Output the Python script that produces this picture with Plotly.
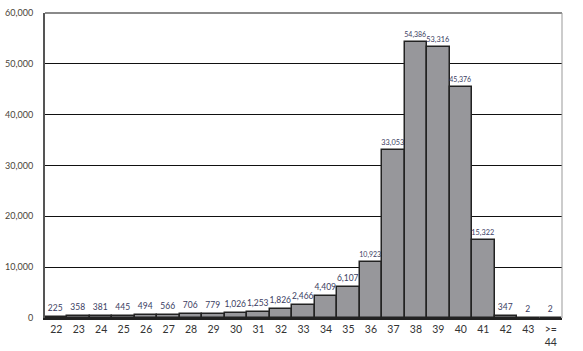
import plotly.graph_objects as go

categories = ["22", "23", "24", "25", "26", "27", "28", "29", "30", "31", "32", "33",
              "34", "35", "36", "37", "38", "39", "40", "41", "42", "43", ">=<br>44"]
values = [225, 358, 381, 445, 494, 566, 706, 779, 1026, 1253, 1826, 2466,
          4409, 6107, 10923, 33053, 54386, 53316, 45376, 15322, 347, 2, 2]
y_ticks = [0, 10000, 20000, 30000, 40000, 50000, 60000]
y_tick_text = ["0", "10,000", "20,000", "30,000", "40,000", "50,000", "60,000"]

labels = [f"{v:,}" for v in values]

fig = go.Figure(go.Bar(
    x=categories, y=values,
    text=labels, textposition="outside", cliponaxis=False,
    textfont=dict(size=8.5, color="#3a3d62", family="Lato"),
    marker=dict(color="#97979b", line=dict(color="#222222", width=1.5)),
    width=1.0,
))

fig.update_layout(
    width=583, height=351,
    margin=dict(l=45, r=21, t=13, b=33, autoexpand=False),
    plot_bgcolor="white", paper_bgcolor="white",
    showlegend=False, bargap=0,
    font=dict(family="Lato", color="#333333"),
)
fig.update_xaxes(
    showgrid=False, showline=True, linecolor="#222222", linewidth=2,
    ticks="", tickfont=dict(size=10.5, color="#333333"), automargin=False,
    ticklabelstandoff=0,
    range=[-0.5, len(categories) - 0.5],
)
fig.update_yaxes(
    range=[0, 60000], tickvals=y_ticks, ticktext=y_tick_text,
    showgrid=True, gridcolor="#111111", gridwidth=1,
    showline=True, linecolor="#555555", linewidth=2,
    ticks="", ticklabelstandoff=8, automargin=False,
    tickfont=dict(size=9, color="#4a4438"), zeroline=False,
)
fig.add_shape(type="line", xref="paper", yref="paper", x0=0, x1=1, y0=1, y1=1,
              line=dict(color="#8a8a8a", width=2))
fig.add_shape(type="line", xref="paper", yref="paper", x0=1, x1=1, y0=0, y1=1,
              line=dict(color="#999999", width=1))

fig.write_html("out.html")
